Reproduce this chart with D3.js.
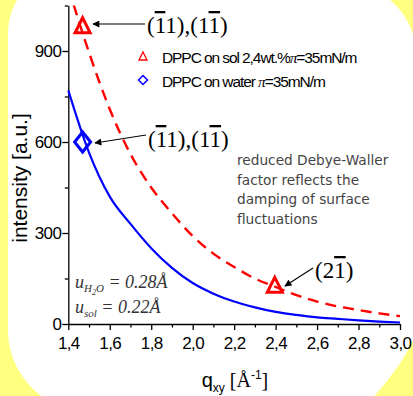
<!DOCTYPE html>
<html><head><meta charset="utf-8">
<script src="https://cdn.jsdelivr.net/npm/d3@7/dist/d3.min.js"></script>
<style>
html,body{margin:0;padding:0;background:#ffff80;}
svg{display:block;}
</style></head>
<body>
<svg id="c" width="413" height="396"></svg>
<script>
// ---- data ----
const qGrid       = [1.4,1.5,1.6,1.7,1.8,1.9,2.0,2.1,2.2,2.3,2.4,2.5,2.6,2.7,2.8,2.9,3.0];
const waterValues = [770,565,420,330,250,185,135,100,74,55,40,30,22,17,12,8,5];
const solValues   = [1110,895,708,560,450,365,290,232,188,150,122,95,74,58,46,35,26];
const solPeaksQ   = [1.469,2.396];
const solPeaksI   = [985,129];
const waterPeaksQ = [1.469];
const waterPeaksI = [600];
const xTicks      = [1.4,1.6,1.8,2.0,2.2,2.4,2.6,2.8,3.0];
const xMinor      = [1.5,1.7,1.9,2.1,2.3,2.5,2.7,2.9];
const yTicks      = [0,300,600,900];
const yMinor      = [150,450,750,1050];
const legendLabels = ["DPPC on sol 2,4wt.%π=35mN/m","DPPC on water π=35mN/m"];
const noteLines   = ["reduced Debye-Waller","factor reflects the","damping of surface","fluctuations"];

const svg = d3.select("#c");
// background frame
svg.append("rect").attr("width",413).attr("height",396).attr("fill","#ffff80");
svg.append("path").attr("fill","#fff")
  .attr("d","M8,33 A65,65 0 0 1 73,-32 L345,-16 A71,71 0 0 1 416,55 L416,330 C412,350 390,380 360,412 L90,412 A82,82 0 0 1 8,330 Z");

const defs = svg.append("defs");
defs.append("clipPath").attr("id","pc").append("rect").attr("x",60).attr("y",5.5).attr("width",345).attr("height",320);
defs.append("marker").attr("id","ah").attr("viewBox","0 0 10 10").attr("refX",9).attr("refY",5)
  .attr("markerWidth",9).attr("markerHeight",7).attr("markerUnits","userSpaceOnUse").attr("orient","auto")
  .append("path").attr("d","M0,0 L10,5 L0,10 Z").attr("fill","#000");

const x = d3.scaleLinear().domain([1.4,3.0]).range([68.3,400]);
const y = d3.scaleLinear().domain([0,1050]).range([324,5.5]);

const fmt = d => d3.format(".1f")(d).replace(".",",");

// axes
svg.append("g").attr("transform","translate(0,324)")
  .call(d3.axisBottom(x).tickValues(xTicks).tickFormat(fmt).tickSize(6).tickSizeOuter(0).tickPadding(7));
svg.append("g").attr("transform","translate(0,324)")
  .call(d3.axisBottom(x).tickValues(xMinor).tickFormat("").tickSize(3.5).tickSizeOuter(0))
  .select(".domain").remove();
svg.append("g").attr("transform","translate(68.3,0)")
  .call(d3.axisLeft(y).tickValues(yTicks).tickSize(6).tickSizeOuter(0).tickPadding(1));
svg.append("g").attr("transform","translate(68.3,0)")
  .call(d3.axisLeft(y).tickValues(yMinor).tickFormat("").tickSize(3.5).tickSizeOuter(0))
  .select(".domain").remove();
svg.selectAll(".domain, .tick line").attr("stroke","#000").attr("stroke-width",1.3);
svg.selectAll(".tick text").attr("font-family","Liberation Sans, Arial, sans-serif")
  .attr("font-size",17).attr("letter-spacing",-0.6).attr("fill","#000");

// axis titles
svg.append("text").attr("transform","translate(27,178) rotate(-90)").attr("text-anchor","middle")
  .attr("font-family","Liberation Sans, Arial, sans-serif").attr("font-size",21).text("intensity [a.u.]");
const xl = svg.append("text").attr("x",235).attr("y",387).attr("text-anchor","middle")
  .attr("font-family","Liberation Sans, Arial, sans-serif").attr("font-size",20);
xl.append("tspan").text("q");
xl.append("tspan").attr("font-size",12).attr("dy",5).text("xy");
xl.append("tspan").attr("dy",-5).attr("font-family","Liberation Serif, Times New Roman, serif").text(" [Å");
xl.append("tspan").attr("font-size",12).attr("dy",-8).text("-1");
xl.append("tspan").attr("dy",8).attr("font-family","Liberation Serif, Times New Roman, serif").text("]");

// curves
const line = d3.line().x((d,i)=>x(qGrid[i])).y(d=>y(d)).curve(d3.curveMonotoneX);
const plot = svg.append("g").attr("clip-path","url(#pc)");
plot.append("path").datum(solValues).attr("d",line).attr("fill","none").attr("stroke","#ff0000")
  .attr("stroke-width",2.4).attr("stroke-dasharray","11,7");
plot.append("path").datum(waterValues).attr("d",line).attr("fill","none").attr("stroke","#0000ff")
  .attr("stroke-width",2.2);

// markers
const tri = s => `M0,${-s} L${s},${s} L${-s},${s} Z`;
const dia = (w,h) => `M0,${-h} L${w},0 L0,${h} L${-w},0 Z`;
svg.selectAll(".tri").data(solPeaksQ).join("path").attr("class","tri")
  .attr("transform",(d,i)=>`translate(${x(d)},${y(solPeaksI[i])})`).attr("d",tri(7.5))
  .attr("fill","none").attr("stroke","#ff0000").attr("stroke-width",3).attr("stroke-linejoin","miter");
svg.selectAll(".dia").data(waterPeaksQ).join("path").attr("class","dia")
  .attr("transform",(d,i)=>`translate(${x(d)},${y(waterPeaksI[i])})`).attr("d",dia(8,10))
  .attr("fill","none").attr("stroke","#0000ff").attr("stroke-width",3);

// legend
const lg = svg.append("g");
lg.append("path").attr("transform","translate(143,56)").attr("d",tri(4)).attr("fill","none").attr("stroke","#ff0000").attr("stroke-width",1.3);
lg.append("path").attr("transform","translate(143,80)").attr("d",dia(4.5,4.5)).attr("fill","none").attr("stroke","#0000ff").attr("stroke-width",1.5);
legendLabels.forEach((t,i)=>{
  const tx = lg.append("text").attr("x",162).attr("y",63+i*24)
    .attr("font-family","Liberation Sans, Arial, sans-serif").attr("font-size",15.5)
    .attr("letter-spacing",-1.08);
  const parts = t.split("π");
  tx.append("tspan").text(parts[0]);
  tx.append("tspan").attr("font-style","italic").attr("font-family","Liberation Serif, serif").text("π");
  tx.append("tspan").text(parts[1]);
});

// annotations
function miller(xp, yp, pieces){
  const t = svg.append("text").attr("x",xp).attr("y",yp)
    .attr("font-family","Liberation Serif, Times New Roman, serif").attr("font-size",23);
  pieces.forEach(p=>{
    const s = t.append("tspan").text(p[0]);
    if(p[1]) s.style("text-decoration","overline");
  });
}
miller(147,33,[["(",0],["1",1],["1),(1",0],["1",1],[")",0]]);
miller(148,147,[["(",0],["1",1],["1),(1",0],["1",1],[")",0]]);
miller(315,278,[["(2",0],["1",1],[")",0]]);
const arrow = (x1,y1,x2,y2)=>svg.append("line").attr("x1",x1).attr("y1",y1).attr("x2",x2).attr("y2",y2)
  .attr("stroke","#000").attr("stroke-width",1.1).attr("marker-end","url(#ah)");
arrow(145,24,93,24);
arrow(146,135,95,143);
arrow(313,268,285,286);

// note text
noteLines.forEach((t,i)=>{
  svg.append("text").attr("x",237).attr("y",165+i*19.5).attr("fill","#444")
    .attr("font-family","DejaVu Sans, sans-serif").attr("font-size",13.7).text(t);
});

// u values
function uLabel(yp, sub, val){
  const t = svg.append("text").attr("x",75).attr("y",yp).attr("fill","#333")
    .attr("font-family","Liberation Serif, Times New Roman, serif").attr("font-style","italic").attr("font-size",18);
  t.append("tspan").text("u");
  if(sub==="H2O"){
    t.append("tspan").attr("font-size",11).attr("dy",4).text("H");
    t.append("tspan").attr("font-size",8).attr("dy",3).text("2");
    t.append("tspan").attr("font-size",11).attr("dy",-3).text("O");
    t.append("tspan").attr("dy",-4).text(" = "+val+"Å");
  } else {
    t.append("tspan").attr("font-size",11).attr("dy",4).text(sub);
    t.append("tspan").attr("dy",-4).text(" = "+val+"Å");
  }
}
uLabel(288,"H2O","0.28");
uLabel(313,"sol","0.22");
</script>
</body></html>
